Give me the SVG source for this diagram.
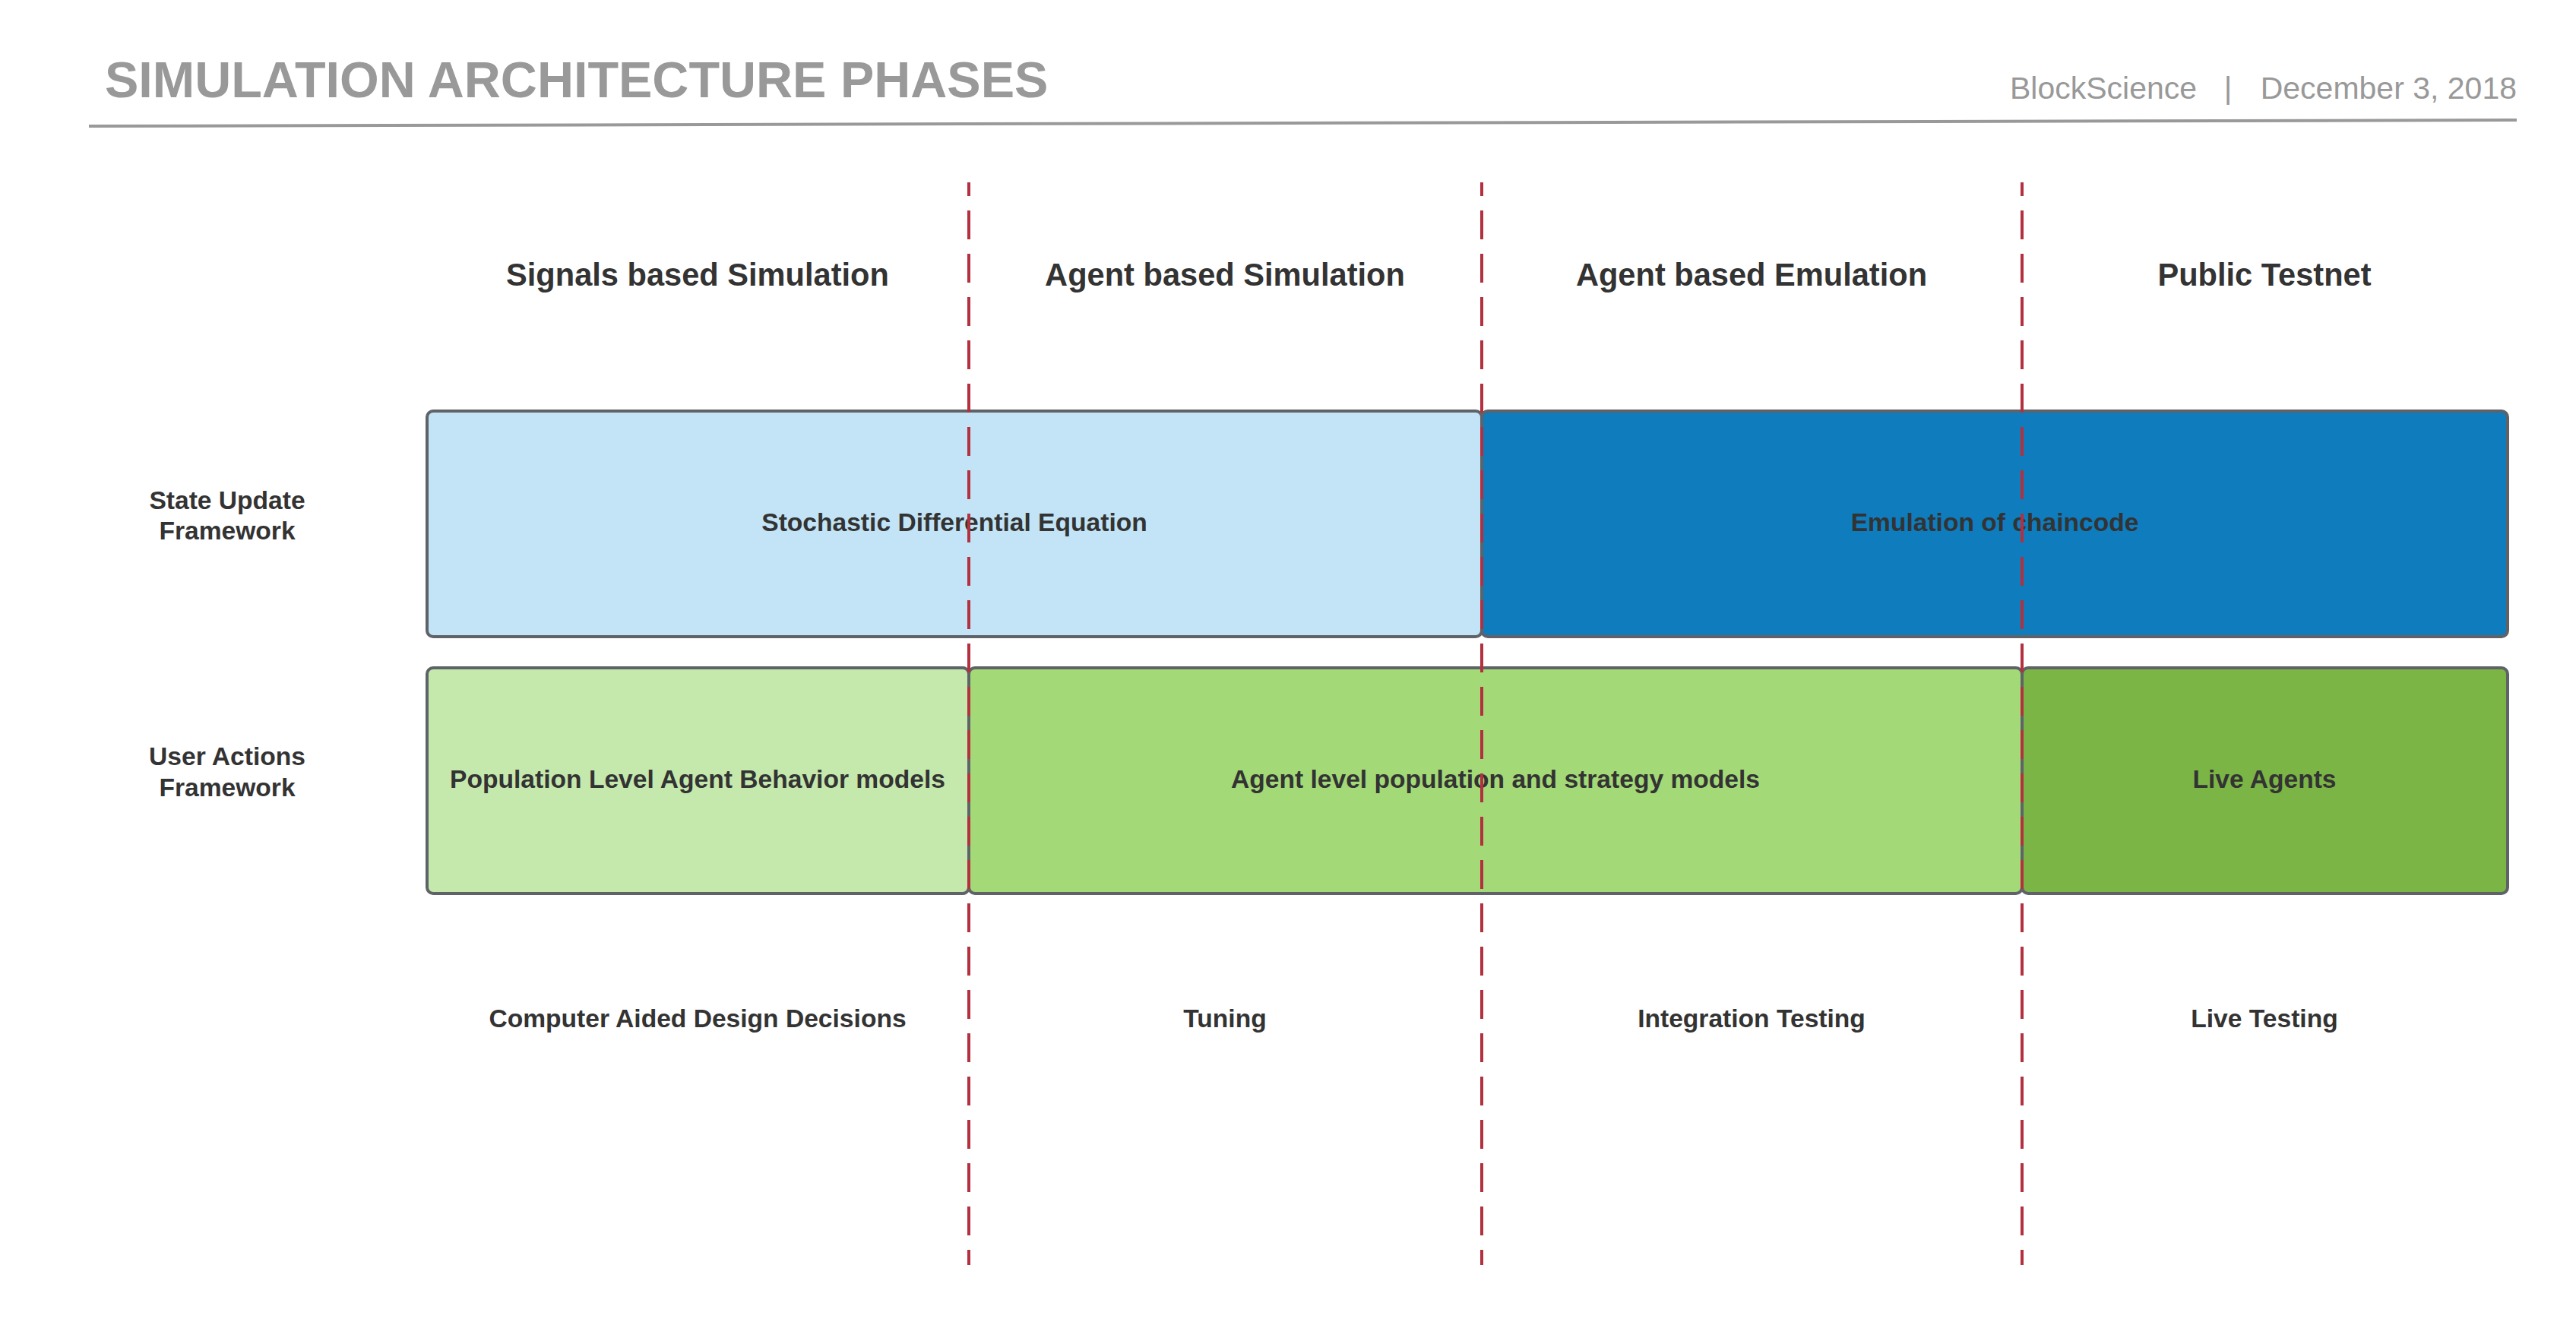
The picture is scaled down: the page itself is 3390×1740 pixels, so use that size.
<svg xmlns="http://www.w3.org/2000/svg" width="3390" height="1740" viewBox="0 0 3390 1740">
<style>
.t{font-family:"Liberation Sans",Arial,sans-serif;}
.title{font-size:66.5px;font-weight:bold;fill:#999999;}
.meta{font-size:41px;fill:#999999;}
.hdr{font-size:41.6px;font-weight:bold;fill:#333333;text-anchor:middle;}
.lbl{font-size:33.6px;font-weight:bold;fill:#333333;text-anchor:middle;}
.box{stroke:#5f6368;stroke-width:4;}
.dash{stroke:#b3303f;stroke-width:4;stroke-dasharray:38 19;stroke-dashoffset:20;fill:none;}
</style>
<rect width="3390" height="1740" fill="#ffffff"/>
<g id="header">
<text class="t title" x="138" y="128">SIMULATION ARCHITECTURE PHASES</text>
<text class="t meta" x="2645" y="130">BlockScience</text>
<text class="t meta" x="2932" y="130" text-anchor="middle">|</text>
<text class="t meta" x="3312" y="130" text-anchor="end">December 3, 2018</text>
<path d="M117 166 L3312 158" stroke="#999999" stroke-width="4" fill="none"/>
</g>
<g id="column-headers">
<text class="t hdr" x="918" y="376">Signals based Simulation</text>
<text class="t hdr" x="1612" y="376">Agent based Simulation</text>
<text class="t hdr" x="2305" y="376">Agent based Emulation</text>
<text class="t hdr" x="2980" y="376">Public Testnet</text>
</g>
<g id="row-labels">
<text class="t lbl" x="299" y="670">State Update</text>
<text class="t lbl" x="299" y="710">Framework</text>
<text class="t lbl" x="299" y="1007">User Actions</text>
<text class="t lbl" x="299" y="1048">Framework</text>
</g>
<g id="node-sde">
<rect class="box" x="562" y="541" width="1388" height="297" rx="8" fill="#c2e4f6"/>
<text class="t lbl" x="1256" y="699">Stochastic Differential Equation</text>
</g>
<g id="node-emulation">
<rect class="box" x="1950" y="541" width="1350" height="297" rx="8" fill="#0e7cbd"/>
<text class="t lbl" x="2625" y="699">Emulation of chaincode</text>
</g>
<g id="node-population">
<rect class="box" x="562" y="879" width="713" height="297" rx="8" fill="#c5e8ad"/>
<text class="t lbl" x="918" y="1037">Population Level Agent Behavior models</text>
</g>
<g id="node-agent-level">
<rect class="box" x="1275" y="879" width="1386" height="297" rx="8" fill="#a3d977"/>
<text class="t lbl" x="1968" y="1037">Agent level population and strategy models</text>
</g>
<g id="node-live-agents">
<rect class="box" x="2661" y="879" width="639" height="297" rx="8" fill="#7bb546"/>
<text class="t lbl" x="2980" y="1037">Live Agents</text>
</g>
<g id="bottom-labels">
<text class="t lbl" x="918" y="1352">Computer Aided Design Decisions</text>
<text class="t lbl" x="1612" y="1352">Tuning</text>
<text class="t lbl" x="2305" y="1352">Integration Testing</text>
<text class="t lbl" x="2980" y="1352">Live Testing</text>
</g>
<g id="connectors">
<line class="dash" x1="1275" y1="240" x2="1275" y2="1665"/>
<line class="dash" x1="1950" y1="240" x2="1950" y2="1665"/>
<line class="dash" x1="2661" y1="240" x2="2661" y2="1665"/>
</g>
</svg>
